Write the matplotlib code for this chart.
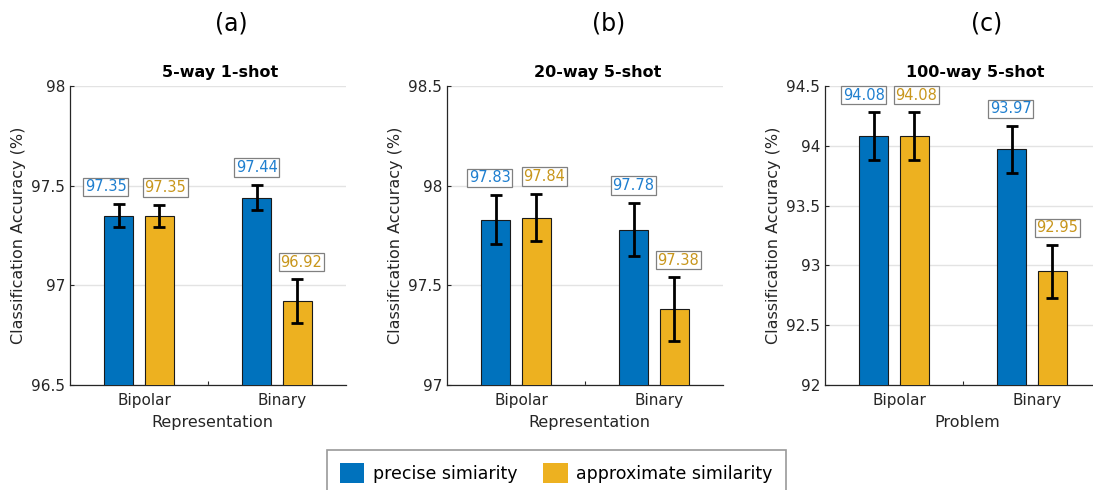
import matplotlib
matplotlib.use('Agg')
import matplotlib.pyplot as plt
import numpy as np

groups = ['Bipolar', 'Binary']
legend_names = ['precise simiarity', 'approximate similarity']

titles = ['5-way 1-shot', '20-way 5-shot', '100-way 5-shot']
letters = ['(a)', '(b)', '(c)']
xlabels = ['Representation', 'Representation', 'Problem']

precise_a = [97.35, 97.44]
approx_a = [97.35, 96.92]
precise_err_a = [0.057, 0.064]
approx_err_a = [0.055, 0.11]

precise_b = [97.83, 97.78]
approx_b = [97.84, 97.38]
precise_err_b = [0.123, 0.135]
approx_err_b = [0.12, 0.16]

precise_c = [94.08, 93.97]
approx_c = [94.08, 92.95]
precise_err_c = [0.2, 0.195]
approx_err_c = [0.2, 0.22]

ylims = [(96.5, 98), (97, 98.5), (92, 94.5)]
yticks = [[96.5, 97, 97.5, 98], [97, 97.5, 98, 98.5], [92, 92.5, 93, 93.5, 94, 94.5]]

blue = '#0072BD'
yellow = '#EDB120'
blue_txt = '#1f7fcf'
yellow_txt = '#c8961c'
dark = '#262626'

plt.rcParams['font.family'] = 'DejaVu Sans'

fig = plt.figure(figsize=(10.93, 4.9), dpi=100)
lefts = [70 / 1093, 447 / 1093, 825 / 1093]

data = [(precise_a, approx_a, precise_err_a, approx_err_a),
        (precise_b, approx_b, precise_err_b, approx_err_b),
        (precise_c, approx_c, precise_err_c, approx_err_c)]

# sideways nudges of the value boxes (pixels) so they don't overlap
nudge = [[(-13, 6), (0, 4)],
         [(-6, 8), (0, 4)],
         [(-10, 2), (-1, 5)]]

x = np.arange(1, len(groups) + 1)
width = 0.21
off = 0.148

for i in range(3):
    ax = fig.add_axes([lefts[i], 105 / 490, 276 / 1093, 299 / 490])
    prec, appr, perr, aerr = data[i]

    b1 = ax.bar(x - off, prec, width, color=blue, edgecolor='#1a1a1a', linewidth=0.8, zorder=3)
    b2 = ax.bar(x + off, appr, width, color=yellow, edgecolor='#1a1a1a', linewidth=0.8, zorder=3)
    ax.errorbar(x - off, prec, yerr=perr, fmt='none', ecolor='black', elinewidth=2,
                capsize=4, capthick=2, zorder=4)
    ax.errorbar(x + off, appr, yerr=aerr, fmt='none', ecolor='black', elinewidth=2,
                capsize=4, capthick=2, zorder=4)

    for k, (xs, vals, errs, col) in enumerate([(x - off, prec, perr, blue_txt),
                                               (x + off, appr, aerr, yellow_txt)]):
        for g, (xx, v, e) in enumerate(zip(xs, vals, errs)):
            dx = nudge[i][g][k] * 0.72
            ax.annotate('%.2f' % v, (xx, v + e), xytext=(dx, 7), textcoords='offset points',
                        ha='center', va='bottom', color=col, fontsize=10.5, zorder=5,
                        bbox=dict(boxstyle='square,pad=0.12', fc='white', ec='#808080', lw=0.9))

    ax.set_xlim(0.5, 2.5)
    ax.set_ylim(*ylims[i])
    ax.set_yticks(yticks[i])
    ax.set_yticklabels(['%g' % t for t in yticks[i]])
    ax.set_xticks([1.04, 1.5, 2.04])
    ax.set_xticklabels([groups[0], '', groups[1]])
    ax.tick_params(direction='in', length=3, colors=dark, labelsize=11, width=0.8)
    ax.tick_params(axis='x', pad=6)
    ax.grid(axis='y', color='#e3e3e3', linewidth=1, zorder=0)
    ax.set_axisbelow(True)
    for s in ['top', 'right']:
        ax.spines[s].set_visible(False)
    for s in ['left', 'bottom']:
        ax.spines[s].set_color(dark)
        ax.spines[s].set_linewidth(0.9)

    ax.set_ylabel('Classification Accuracy (%)', fontsize=11.5, color=dark)
    ax.set_xlabel(xlabels[i], fontsize=11.5, color=dark, labelpad=2)
    ax.xaxis.set_label_coords(0.515, -0.1)
    ax.text(0.545, 1.02, titles[i], transform=ax.transAxes, ha='center', va='bottom',
            fontsize=11.5, fontweight='bold', color='black')
    ax.text(0.585, 1.17, letters[i], transform=ax.transAxes, ha='center', va='bottom',
            fontsize=17, color='black')

    if i == 0:
        handles = [b1, b2]

leg = fig.legend(handles, legend_names, loc='lower center', bbox_to_anchor=(0.509, -0.03),
                 ncol=2, fontsize=12.5, frameon=True, fancybox=False, edgecolor='#808080',
                 handlelength=1.4, handleheight=1.4, columnspacing=1.5, handletextpad=0.5,
                 borderpad=0.75)
leg.get_frame().set_linewidth(1.2)
for p in leg.get_patches():
    p.set_edgecolor('none')

fig.savefig('out.png', dpi=100)
